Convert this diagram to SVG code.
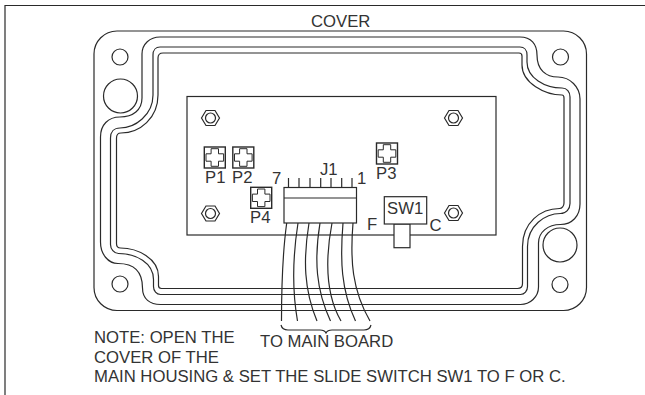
<svg xmlns="http://www.w3.org/2000/svg" width="645" height="395" viewBox="0 0 645 395">
<style>
.l{fill:none;stroke:#2a2a2a;stroke-width:1.2}
.w{fill:#fff;stroke:#2a2a2a;stroke-width:1.2}
.s{fill:none;stroke:#2a2a2a;stroke-width:1.4}
.p{fill:none;stroke:#2a2a2a;stroke-width:1}
.t{font-family:"Liberation Sans",Arial,sans-serif;font-size:16.7px;fill:#333}
</style>
<defs>
<g id="nut"><polygon class="l" points="-9,0 -4.500,-7.500 4.500,-7.500 9,0 4.500,7.500 -4.500,7.500"/><circle class="l" cx="0" cy="0" r="5"/></g>
<g id="pot"><rect class="s" x="-10.500" y="-10.500" width="21" height="21"/><path class="p" d="M-3.700,-8.800H3.700V-3.700H8.800V3.700H3.700V8.800H-3.700V3.700H-8.800V-3.700H-3.700Z"/></g>
<g id="hole"><circle class="l" cx="0" cy="0" r="8"/></g>
</defs>
<rect width="645" height="395" fill="#fff"/>
<path class="l" d="M5,395V5.500H645"/>
<g id="cover">
<rect class="l" x="94" y="31" width="492.500" height="279.500" rx="23" ry="23"/>
<path class="l" d="M160,37H520C531,37 537,44 537,55C537,70 546,77 558,77C570,77 580,87 580,99V204C580,216 572,224.500 560.500,224.500C548,224.500 538.500,232 538.500,243V287C538.500,297 530,304.500 520.500,304.500H160.500C150,304.500 142.500,299 142.500,288C142.500,271 134,263.500 118,263.500C108,263.500 100.500,254 100.500,242V137C100.500,125 108,117 120,117C133,117 142,110 142,98V54C142,44 150,37 160,37Z"/>
<path class="l" d="M160,47H520C524,47 527,50 527,55V62C527,78 545,88 562,88C567,88 570,92 570,97V203.500C570,209 566,213.500 560.500,213.500C545,213.500 527.500,226 527.500,246.500V286.500C527.500,291 524.500,294.500 520.500,294.500H160.500C156.500,294.500 153.500,291 153.500,286.500V279.500C153.500,263 136,253.500 118.500,253.500C114,253.500 110.500,249 110.500,244.500V138C110.500,132 114,128 120,128C135,128 153,115 153,95V55C153,50 156,47 160,47Z"/>
<path class="l" d="M163,53H519C521,53 522,54.500 522,56V65C522,83 545,95 562,95C563,95 564,96 564,98V203C564,206 562,208.500 559.500,208.500C540.500,208.500 522.500,223 522.500,246.500V283.500C522.500,286.500 520.500,288.500 517.500,288.500H161.500C160,288.500 158.500,287.500 158.500,285.500V276.500C158.500,258.500 137.500,248 120.500,248C117.500,248 116.500,246 116.500,243.500V138C116.500,135 118,133 121,133C140,133 158,118 158,95V58C158,55 160,53 163,53Z"/>
<use href="#hole" x="120" y="57"/>
<use href="#hole" x="560.500" y="57"/>
<use href="#hole" x="120" y="284"/>
<use href="#hole" x="560" y="284.500"/>
<circle class="l" cx="120.500" cy="96" r="17"/>
<circle class="l" cx="560" cy="245" r="17"/>
</g>
<g id="board">
<rect class="l" x="187" y="96.500" width="309" height="138.500"/>
<use href="#nut" x="210.500" y="118"/>
<use href="#nut" x="453.500" y="118"/>
<use href="#nut" x="210.500" y="213.500"/>
<use href="#nut" x="453.500" y="213"/>
</g>
<g id="P1"><use href="#pot" x="214.800" y="157.500"/><text class="t" x="205" y="183">P1</text></g>
<g id="P2"><use href="#pot" x="243.300" y="157.500"/><text class="t" x="232" y="183">P2</text></g>
<g id="P3"><use href="#pot" x="387" y="153.500"/><text class="t" x="376" y="178.500">P3</text></g>
<g id="P4"><use href="#pot" x="261.200" y="197.800"/><text class="t" x="250" y="223">P4</text></g>
<g id="connectors">
<path class="l" d="M286.700,223C283,250 281.500,285 281.500,321"/>
<path class="l" d="M298,223C293,255 292,290 297.500,321"/>
<path class="l" d="M309,223C303,260 304,290 317,321"/>
<path class="l" d="M320,223C314,260 316,290 330.500,321"/>
<path class="l" d="M332,223C325,260 326,295 341,321"/>
<path class="l" d="M343,223C340,260 341,290 355.500,321"/>
<path class="l" d="M353,223C350,260 352,290 370,321"/>
<path class="l" d="M281,325C282,329 285,330 288,330H320C323,330 325,331 326,333C327,331 329,330 332,330H364C367,330 370,329 371,325"/>
</g>
<g id="J1">
<path class="l" d="M288.500,178V187.500M299,178V187.500M310,178V187.500M320.700,178V187.500M331,178V187.500M341.700,178V187.500M352,178V187.500"/>
<rect class="w" x="284" y="187.500" width="72.500" height="35.500"/>
<path class="l" d="M284,198H356.500"/>
<text class="t" x="320" y="175">J1</text>
<text class="t" x="272" y="184">7</text>
<text class="t" x="357" y="184">1</text>
</g>
<g id="SW1">
<rect class="w" x="394" y="224" width="16" height="23.700"/>
<rect class="w" x="384.300" y="196.700" width="42.400" height="27.300"/>
<text class="t" x="387" y="214">SW1</text>
<text class="t" x="367" y="230">F</text>
<text class="t" x="429.500" y="231">C</text>
</g>
<g id="labels">
<text class="t" x="311" y="26.500">COVER</text>
<text class="t" x="260" y="346.700">TO MAIN BOARD</text>
<text class="t" x="94" y="343.300">NOTE: OPEN THE</text>
<text class="t" x="94" y="362.700">COVER OF THE</text>
<text class="t" x="94" y="381.700">MAIN HOUSING &amp; SET THE SLIDE SWITCH SW1 TO F OR C.</text>
</g>
</svg>
